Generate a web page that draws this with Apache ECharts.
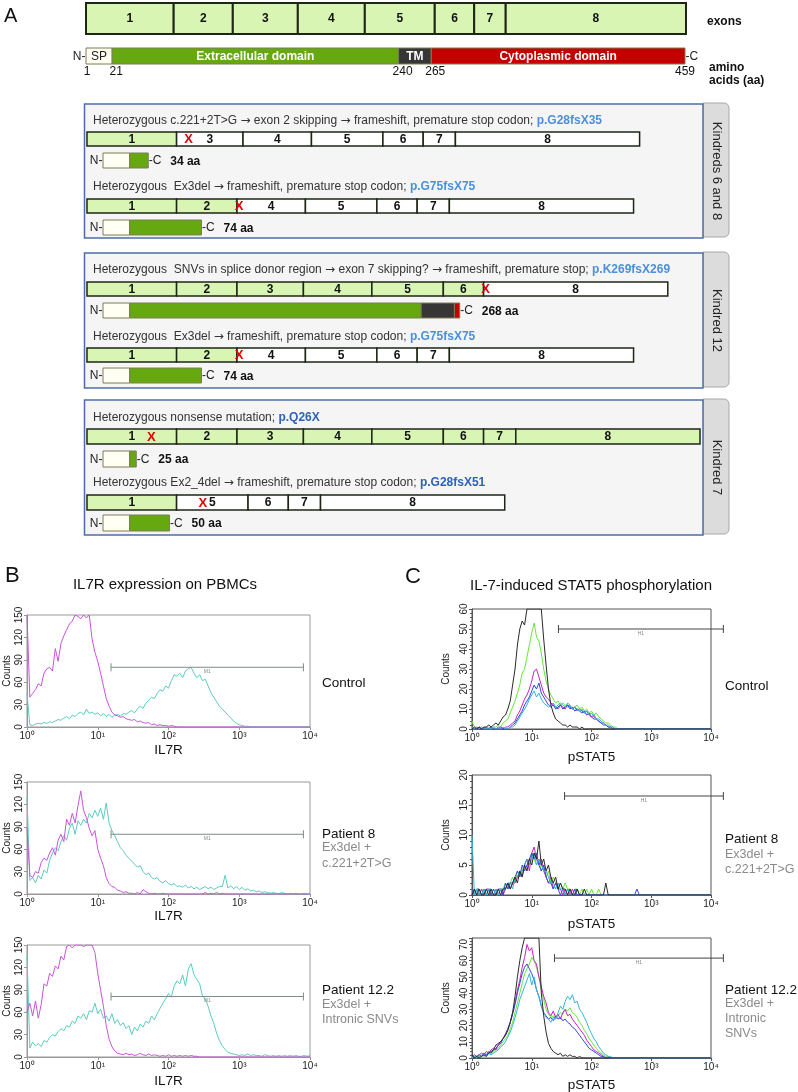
<!DOCTYPE html>
<html><head><meta charset="utf-8">
<script src="https://cdn.jsdelivr.net/npm/echarts@6/dist/echarts.min.js"></script>
<style>html,body{margin:0;padding:0;background:#fff}#c{width:798px;height:1092px}</style>
</head><body><div id="c"></div>
<script>
// ================= DATA =================
// Panel A – gene / protein structure
const exonNames = ['1','2','3','4','5','6','7','8'];
const exonLengths = [89, 60, 66, 68, 71, 40, 32, 183];
const domainNames = ['SP', 'Extracellular domain', 'TM', 'Cytoplasmic domain'];
const domainBounds = [1, 21, 240, 265, 459];           // amino acids
const proteinTotal = 459;
// variant rows (exons present, number translated in-frame, stop mark position, protein length)
const rowExons = [[1,3,4,5,6,7,8],[1,2,4,5,6,7,8],[1,2,3,4,5,6,8],[1,2,4,5,6,7,8],[1,2,3,4,5,6,7,8],[1,5,6,7,8]];
const rowGreenCount = [1, 2, 6, 2, 8, 1];
const rowStopAt = [101, 151, 396, 151, 64, 115];
const proteinLengths = [34, 74, 268, 74, 25, 50];
const mutationText = [
  'Heterozygous c.221+2T>G \u2192 exon 2 skipping \u2192 frameshift, premature stop codon; ',
  'Heterozygous  Ex3del \u2192 frameshift, premature stop codon; ',
  'Heterozygous  SNVs in splice donor region \u2192 exon 7 skipping? \u2192 frameshift, premature stop; ',
  'Heterozygous  Ex3del \u2192 frameshift, premature stop codon; ',
  'Heterozygous nonsense mutation; ',
  'Heterozygous Ex2_4del \u2192 frameshift, premature stop codon; '
];
const proteinChange = ['p.G28fsX35','p.G75fsX75','p.K269fsX269','p.G75fsX75','p.Q26X','p.G28fsX51'];
const kindredNames = ['Kindreds 6 and 8', 'Kindred 12', 'Kindred 7'];

// Panels B / C – flow histograms, one value per channel (channel i at 10^(i*binStep))
const binStep = 0.04;
const xTickExp = [0, 1, 2, 3, 4];
const b1Magenta = [150,40,45,50,58,55,72,78,80,75, 105,88,112,122,130,138,142,150,148,145, 150,146,150,118,100,88,72,55,38,28, 20,16,15,13,14,11,10,9,10,7, 8,6,5,6,3,4,2,3,2,2, 1,2,1,0];
const b1Cyan = [45,3,2,4,5,4,6,5,7,6, 8,10,9,12,14,11,16,14,18,20, 16,24,18,20,17,19,15,18,14,17, 13,16,17,15,18,17,20,22,19,24, 28,25,32,36,40,38,45,50,48,55, 52,62,70,68,72,66,75,78,80,72, 66,70,62,64,55,46,40,34,28,24, 20,16,12,8,5,3,2,1,1,0];
const b2Magenta = [88,25,22,30,28,42,48,45,55,62, 52,72,80,70,100,92,108,95,118,138, 112,102,88,78,85,60,48,38,22,14, 10,9,5,4,2,3,1,1,0,2, 0,6,3,1,0,1,0,0,1,0, 0,0,0,0,0,0,0,0,0,0, 0,0,0,2,0,1,0,2,0,1, 0];
const b2Cyan = [130,18,22,15,25,20,32,28,45,55, 62,58,70,78,72,88,95,80,98,92, 100,95,108,102,112,104,115,100,122,95, 85,78,70,62,58,52,48,44,40,36, 38,30,26,28,22,20,22,17,15,18, 14,12,14,10,11,9,12,8,10,7, 9,6,8,10,7,9,6,8,10,10, 25,8,11,7,10,6,9,5,7,4, 5,3,4,2,3,2,1,2,1,0, 2,1,0,1,0,1,0,0,1,0, 0];
const b3Magenta = [60,72,55,75,52,70,98,95,112,108, 122,118,135,130,148,150,146,150,150,150, 148,150,150,150,140,112,90,68,42,24, 14,8,5,4,3,5,3,4,2,3, 5,3,2,4,2,3,2,1,2,1, 3,1,2,1,2,1,2,1,2,1, 1,0];
const b3Cyan = [137,12,20,15,18,14,22,20,26,30, 28,34,38,35,42,40,48,45,55,52, 58,50,62,60,72,58,64,52,55,48, 58,45,50,42,46,38,42,30,40,35, 44,40,48,45,55,50,58,65,72,78, 85,80,95,102,98,110,95,118,125,110, 104,98,82,78,68,55,45,32,22,15, 10,6,5,4,3,2,3,2,4,2, 3,2,2,1,3,2,1,2,1,2, 1,2,1,2,1,2,1,1,2,1, 2];

const c1Black = [0,1,0,1,0,1,1,2,1,2, 3,2,4,6,7,10,14,22,30,42, 50,54,52,60,60,60,60,60,60,60, 45,32,20,12,8,5,4,3,2,2, 1,2,1,1,1,0,1,0];
const c1Green = [4,1,0,1,0,1,0,1,0,1, 1,2,1,3,4,5,8,11,14,18, 22,28,30,36,42,48,53,46,44,38, 30,24,20,17,15,13,14,12,13,12, 11,12,10,11,12,10,11,9,10,8, 9,7,8,6,5,4,3,3,2,1, 1,0];
const c1Magenta = [0,0,1,0,0,0,1,0,0,0, 0,1,0,0,1,1,2,3,4,7, 9,12,15,17,20,24,29,30,26,22, 18,16,15,13,12,11,10,12,11,10, 12,11,10,11,9,10,9,8,9,7, 6,7,5,4,3,3,2,1,1,0];
const c1Blue = [0,0,0,1,0,0,0,0,1,0, 0,0,1,0,0,0,1,2,3,5, 7,9,12,14,16,19,22,20,23,18, 16,14,12,11,12,10,11,12,10,11, 12,10,11,9,10,9,8,9,7,8, 6,5,5,4,3,2,2,1,1,0];
const c1Cyan = [1,0,0,0,1,0,0,0,0,1, 0,0,0,1,0,0,1,1,2,4, 6,8,10,12,15,17,19,16,18,15, 13,12,11,12,13,11,12,13,12,11, 13,12,10,11,10,9,10,8,9,7, 8,6,5,5,4,3,2,2,1,1, 0];

const c2Black = [0,1,0,1,0,0,1,0,1,0, 0,1,0,1,1,2,1,2,3,2, 4,3,5,4,6,5,7,6,9,5, 6,4,5,3,2,3,1,2,1,1, 0,1,0,0,1,0,0,1,0,0, 0,0,0,0,0,0,2,0];
const c2Green = [1,0,1,0,1,0,0,1,0,1, 0,0,1,1,2,1,2,3,2,4, 3,4,5,6,5,7,6,5,6,4, 5,3,4,2,3,2,1,2,1,2, 1,1,0,1,1,0,1,0,1,0, 1,0,0,1,0];
const c2Magenta = [0,1,0,0,1,0,1,1,0,0, 1,0,1,0,1,2,1,2,2,3, 4,3,5,6,4,7,8,6,5,6, 4,3,2,3,1,2,1,1,0,1, 0,0,1,0];
const c2Blue = [1,0,1,1,0,1,0,1,0,1, 0,1,1,0,2,1,2,2,3,4, 3,5,4,5,6,7,6,7,5,4, 5,3,2,2,1,2,1,0,1,0, 1,0,0,1,0,0,0,0,0,0, 0,0,0,0,0,0,0,0,0,0, 0,0,0,0,0,0,0,0,0,1, 0];
const c2Cyan = [10,0,1,0,0,1,0,1,1,0, 1,0,1,1,1,2,2,1,3,3, 4,4,5,6,5,6,7,5,6,5, 4,4,3,2,2,1,2,1,1,0, 1,0,0,0,1,0];

const c3Black = [2,0,1,0,1,2,1,3,4,5, 8,9,10,12,14,17,22,28,38,50, 60,68,74,74,74,74,74,74,74,40, 26,16,9,6,4,3,2,3,1,2, 1,2,1,1,0,1,0];
const c3Green = [0,1,0,1,2,1,2,3,2,4, 5,6,8,10,12,14,18,22,28,34, 40,46,52,55,58,62,60,56,50,42, 36,30,27,25,26,24,26,28,27,30, 29,31,28,27,25,22,20,17,15,12, 10,8,6,4,3,2,1,1,0];
const c3Magenta = [1,2,1,2,3,2,4,3,5,6, 5,8,10,12,15,18,22,28,34,42, 48,56,62,70,66,68,60,58,50,44, 38,34,28,26,29,25,27,24,28,30, 26,27,24,22,20,18,16,14,11,9, 7,5,4,3,2,1,0];
const c3Blue = [1,0,1,2,1,3,2,4,3,5, 6,8,9,12,14,18,22,27,33,40, 46,52,56,58,55,52,48,42,38,32, 28,26,24,25,23,26,24,25,23,24, 22,21,19,18,16,14,12,10,8,6, 5,4,3,2,1,1,0];
const c3Cyan = [0,1,0,1,1,2,1,3,2,3, 4,5,7,8,10,13,16,20,25,30, 36,40,44,48,52,45,50,42,38,32, 28,25,24,22,25,24,28,32,30,35, 38,36,39,34,35,30,28,25,22,18, 15,12,10,7,5,3,2,1,1,0];

// gates [from, to, level]
const gatesB = [[15.4, 8070, 80], [15.4, 8070, 80], [15.4, 8070, 81]];
const gatesC = [[28, 16100, 50], [35.4, 16100, 16.5], [24, 16100, 61.6]];
const yMaxB = [150, 150, 150];
const yMaxC = [60, 20, 74];
const yStepC = [10, 5, 10];

const titleB = 'IL7R expression on PBMCs';
const titleC = 'IL-7-induced STAT5 phosphorylation';
const sampleLabels = [['Control'], ['Patient 8', 'Ex3del +', 'c.221+2T>G'], ['Patient 12.2', 'Ex3del +', 'Intronic SNVs']];
const sampleLabelsC = [['Control'], ['Patient 8', 'Ex3del +', 'c.221+2T>G'], ['Patient 12.2', 'Ex3del +', 'Intronic', 'SNVs']];

// ================= STYLE / LAYOUT =================
const FONT = "'Liberation Sans', Arial, Helvetica, sans-serif";
const ARROW_FONT = "'DejaVu Sans', 'Liberation Sans', sans-serif";
const EXON_GREEN = '#d8f5b4';
const DOMAIN_COLORS = ['#fffff4', '#66a80f', '#363636', '#c40000'];
const DOMAIN_STROKE = '#7d7d55';
const SUP = ['\u2070','\u00b9','\u00b2','\u00b3','\u2074'];
const exonTotal = exonLengths.reduce((a,b)=>a+b,0);

const grids=[], xAxes=[], yAxes=[], series=[], gfx=[];
function addGrid(g, xa, ya){
  grids.push(Object.assign({containLabel:false, outerBoundsMode:'none'}, g));
  const i = grids.length-1;
  xAxes.push(Object.assign({gridIndex:i}, xa));
  yAxes.push(Object.assign({gridIndex:i}, ya));
  return i;
}
const hx = (min,max)=>({type:'value', min, max, show:false});
const hy = ()=>({type:'value', min:0, max:1, show:false});

function exonRender(lw, fs){
  return function(params, api){
    const a = api.coord([api.value(0), 1]);
    const b = api.coord([api.value(1), 0]);
    return {type:'group', children:[
      {type:'rect', shape:{x:a[0], y:a[1], width:b[0]-a[0], height:b[1]-a[1]},
       style:{fill: api.value(3) ? EXON_GREEN : '#ffffff', stroke:'#1e2616', lineWidth:lw}},
      {type:'text', style:{text: exonNames[api.value(2)-1], x:(a[0]+b[0])/2, y:(a[1]+b[1])/2+0.5,
        align:'center', verticalAlign:'middle', fontSize:fs, fontWeight:'bold', fontFamily:FONT, fill:'#111'}}
    ]};
  };
}
function stopRender(params, api){
  const p = api.coord([api.value(0), api.value(1)]);
  return {type:'text', style:{text:'X', x:p[0], y:p[1]+0.5, align:'center', verticalAlign:'middle',
    fontSize:13, fontWeight:'bold', fontFamily:FONT, fill:'#e00000'}};
}
function domainRender(top){
  return function(params, api){
    const d = api.value(2);
    const a = api.coord([api.value(0), 1]), b = api.coord([api.value(1), 0]);
    const ch = [{type:'rect', shape:{x:a[0], y:a[1], width:b[0]-a[0], height:b[1]-a[1]},
      style:{fill:DOMAIN_COLORS[d], stroke:DOMAIN_STROKE, lineWidth:1}}];
    if (top){
      ch.push({type:'text', style:{text:domainNames[d], x:(a[0]+b[0])/2, y:(a[1]+b[1])/2+0.5, align:'center', verticalAlign:'middle',
        fontSize:12, fontWeight: d===0?'normal':'bold', fontFamily:FONT, fill: d===0?'#222':'#fff'}});
      const dx = d===0 ? 1 : 4;
      ch.push({type:'text', style:{text:String(api.value(0)), x:a[0]+dx, y:b[1]+8, align:'center', verticalAlign:'middle',
        fontSize:12, fontFamily:FONT, fill:'#111'}});
      if (d===3) ch.push({type:'text', style:{text:String(api.value(1)), x:b[0], y:b[1]+8, align:'center', verticalAlign:'middle',
        fontSize:12, fontFamily:FONT, fill:'#111'}});
    }
    return {type:'group', children:ch};
  };
}
function endsRender(withLen){
  return function(params, api){
    const a = api.coord([api.value(0), 0.5]), b = api.coord([api.value(1), 0.5]);
    const ch = [
      {type:'text', style:{text:'N-', x:a[0]-0.5, y:a[1]+0.5, align:'right', verticalAlign:'middle', fontSize:12, fontFamily:FONT, fill:'#222'}},
      {type:'text', style:{text:'-C', x:b[0]+0.5, y:b[1]+0.5, align:'left', verticalAlign:'middle', fontSize:12, fontFamily:FONT, fill:'#222'}}
    ];
    if (withLen) ch.push({type:'text', style:{text: api.value(1)+' aa', x:b[0]+22, y:b[1]+1, align:'left', verticalAlign:'middle',
      fontSize:12, fontWeight:'bold', fontFamily:FONT, fill:'#111'}});
    return {type:'group', children:ch};
  };
}

// ---- Panel A: top exon bar ----
{
  const gi = addGrid({left:86, top:3, width:600, height:31}, hx(0, exonTotal), hy());
  let acc = 0; const segs = [];
  exonLengths.forEach((L,i)=>{ segs.push([acc, acc+L, i+1, 1]); acc += L; });
  series.push({type:'custom', xAxisIndex:gi, yAxisIndex:gi, data:segs, renderItem:exonRender(2, 12), z:5, silent:true});
}
// ---- Panel A: full protein ----
{
  const gi = addGrid({left:86, top:48, width:599, height:16}, hx(domainBounds[0], domainBounds[4]), hy());
  const segs = [];
  for (let d=0; d<4; d++) segs.push([domainBounds[d], domainBounds[d+1], d]);
  series.push({type:'custom', xAxisIndex:gi, yAxisIndex:gi, data:segs, renderItem:domainRender(true), z:5, silent:true});
  series.push({type:'custom', xAxisIndex:gi, yAxisIndex:gi, data:[[domainBounds[0], domainBounds[4]]], renderItem:endsRender(false), z:5, silent:true});
}
// ---- Panel A: variant rows ----
const exonRowTop = [132, 199, 282, 348, 429, 495];
const exonRowH = [14, 14, 14, 14, 15, 15];
const protRowTop = [153, 220, 303, 368, 451, 515];
const protRowH = [15, 15, 15, 15, 16, 16];
rowExons.forEach((exs, r)=>{
  const gi = addGrid({left:87, top:exonRowTop[r], width:613, height:exonRowH[r]}, hx(0, exonTotal), hy());
  let acc = 0; const segs = [];
  exs.forEach((ex,k)=>{ const L = exonLengths[ex-1]; segs.push([acc, acc+L, ex, k < rowGreenCount[r] ? 1 : 0]); acc += L; });
  series.push({type:'custom', xAxisIndex:gi, yAxisIndex:gi, data:segs, renderItem:exonRender(1.5, 12), z:5, silent:true});
  series.push({type:'custom', xAxisIndex:gi, yAxisIndex:gi, data:[[rowStopAt[r], 0.5]], renderItem:stopRender, z:6, silent:true});

  const L = proteinLengths[r];
  const gp = addGrid({left:103, top:protRowTop[r], width:611, height:protRowH[r]}, hx(0, proteinTotal), hy());
  const b = [0, domainBounds[1]-1, domainBounds[2]-1, domainBounds[3]-1, L];
  const ps = [];
  for (let d=0; d<4; d++){ const lo=b[d], hi = d===3 ? L : Math.min(b[d+1], L); if (hi>lo) ps.push([lo, hi, d]); }
  series.push({type:'custom', xAxisIndex:gp, yAxisIndex:gp, data:ps, renderItem:domainRender(false), z:5, silent:true});
  series.push({type:'custom', xAxisIndex:gp, yAxisIndex:gp, data:[[0, L]], renderItem:endsRender(true), z:5, silent:true});
});

// ---- Panel A: boxes, tabs, texts ----
const boxTop = [104, 253, 400], boxH = [134, 135, 135];
const textY = [120.5, 186.5, 270, 336.5, 417.5, 482.5];
const changeColor = ['#4a90dc','#4a90dc','#4a90dc','#4a90dc','#2f62b8','#2f62b8'];
boxTop.forEach((t,k)=>{
  gfx.push({type:'rect', z:0, shape:{x:703, y:t-1, width:26, height:boxH[k], r:[0,5,5,0]}, style:{fill:'#dcdcdc', stroke:'#a8a8a8', lineWidth:1}});
  gfx.push({type:'rect', z:1, shape:{x:84.5, y:t, width:618.5, height:boxH[k]}, style:{fill:'#f5f5f5', stroke:'#4d6da6', lineWidth:1.5}});
  gfx.push({type:'text', z:10, x:716.5, y:t+boxH[k]/2, rotation:-Math.PI/2, style:{text:kindredNames[k], align:'center', verticalAlign:'middle', fontSize:13, fontFamily:FONT, fill:'#222'}});
});
mutationText.forEach((s,r)=>{
  const body = '{t|' + s.split('\u2192').join('}{a|\u2192}{t|') + '}';
  gfx.push({type:'text', z:10, x:93, y:textY[r], style:{text: body + '{p|'+proteinChange[r]+'}', verticalAlign:'middle',
    rich:{t:{fontSize:12, fontFamily:FONT, fill:'#333'}, a:{fontSize:12, fontFamily:ARROW_FONT, fill:'#333'},
          p:{fontSize:12, fontFamily:FONT, fontWeight:'bold', fill:changeColor[r]}}}});
});
gfx.push({type:'text', z:10, x:4, y:16, style:{text:'A', fontSize:20, fontFamily:FONT, fill:'#111', verticalAlign:'middle'}});
gfx.push({type:'text', z:10, x:707, y:22, style:{text:'exons', fontSize:12, fontWeight:'bold', fontFamily:FONT, fill:'#111', verticalAlign:'middle'}});
gfx.push({type:'text', z:10, x:709, y:68, style:{text:'amino', fontSize:12, fontWeight:'bold', fontFamily:FONT, fill:'#111', verticalAlign:'middle'}});
gfx.push({type:'text', z:10, x:709, y:81, style:{text:'acids (aa)', fontSize:12, fontWeight:'bold', fontFamily:FONT, fill:'#111', verticalAlign:'middle'}});

// ---- Panels B / C ----
const channels = arr => { const d = arr.map((v,i)=>[Math.pow(10, i*binStep), v]); if (arr.length < 101) d.push([10000, 0]); return d; };
function gateRender(label, color){
  return function(params, api){
    const a = api.coord([api.value(0), api.value(2)]);
    const b = api.coord([api.value(1), api.value(2)]);
    return {type:'group', children:[
      {type:'line', shape:{x1:a[0], y1:a[1], x2:b[0], y2:b[1]}, style:{stroke:color, lineWidth:1}},
      {type:'line', shape:{x1:a[0], y1:a[1]-4, x2:a[0], y2:a[1]+4}, style:{stroke:color, lineWidth:1}},
      {type:'line', shape:{x1:b[0], y1:b[1]-4, x2:b[0], y2:b[1]+4}, style:{stroke:color, lineWidth:1}},
      {type:'text', style:{text:label, x:(a[0]+b[0])/2, y:a[1]+2, align:'center', verticalAlign:'top', fontSize:5, fontFamily:FONT, fill:'#888'}}
    ]};
  };
}
function histX(nameText, gap, lineColor){
  return {type:'log', logBase:10, min:1, max:10000, splitNumber:4,
    name:nameText, nameLocation:'middle', nameGap:gap, nameTextStyle:{fontSize:13.5, color:'#111', fontFamily:FONT},
    axisLine:{show:true, lineStyle:{color:lineColor}}, axisTick:{show:true, length:3, lineStyle:{color:lineColor}},
    splitLine:{show:false},
    axisLabel:{fontSize:10, color:'#222', margin:4, fontFamily:FONT,
      formatter: v => { const e = Math.round(Math.log10(v)); return xTickExp.indexOf(e) >= 0 ? '10' + SUP[e] : ''; }}};
}
function histY(max, step, gap, lineColor, minor){
  return {type:'value', min:0, max, interval:step,
    name:'Counts', nameLocation:'middle', nameGap:gap, nameTextStyle:{fontSize:10, color:'#222', fontFamily:FONT},
    axisLine:{show:true, lineStyle:{color:lineColor}}, axisTick:{show:true, length:3, lineStyle:{color:lineColor}},
    minorTick:{show:minor, splitNumber:5, length:2, lineStyle:{color:lineColor}},
    splitLine:{show:false},
    axisLabel:{rotate:90, fontSize:10, color:'#222', margin:3, fontFamily:FONT, showMaxLabel: max % step === 0}};
}
const lineS = (gi, data, color) => ({type:'line', xAxisIndex:gi, yAxisIndex:gi, data:channels(data), showSymbol:false, symbol:'none',
  lineStyle:{color, width:1}, itemStyle:{color}, z:3, silent:true});

const bTop = [615, 782, 945];
const bSeries = [[b1Cyan, b1Magenta], [b2Cyan, b2Magenta], [b3Cyan, b3Magenta]];
const bGaps = [16, 14, 17];
bTop.forEach((t,k)=>{
  const gi = addGrid({left:27, top:t, width:283, height:112, show:true, borderColor:'#999', borderWidth:1},
    histX('IL7R', bGaps[k], '#999'), histY(yMaxB[k], 30, 15, '#999', false));
  series.push(lineS(gi, bSeries[k][0], '#5ccbbf'));
  series.push(lineS(gi, bSeries[k][1], '#c854da'));
  series.push({type:'custom', xAxisIndex:gi, yAxisIndex:gi, data:[gatesB[k]], renderItem:gateRender('M1', '#7d8c8c'), z:6, silent:true});
});
const cTop = [609, 775, 938];
const cSeries = [[c1Green, c1Magenta, c1Blue, c1Cyan, c1Black], [c2Green, c2Magenta, c2Blue, c2Cyan, c2Black], [c3Green, c3Magenta, c3Blue, c3Cyan, c3Black]];
const cColors = ['#6be43c', '#c424c4', '#3646e0', '#33b5d6', '#2a2a2a'];
const cGaps = [21, 22, 20];
cTop.forEach((t,k)=>{
  const gi = addGrid({left:472, top:t, width:239, height:120, show:true, borderColor:'#555', borderWidth:1},
    histX('pSTAT5', cGaps[k], '#555'), histY(yMaxC[k], yStepC[k], 21, '#555', true));
  cSeries[k].forEach((arr,j)=> series.push(lineS(gi, arr, cColors[j])));
  series.push({type:'custom', xAxisIndex:gi, yAxisIndex:gi, data:[gatesC[k]], renderItem:gateRender('H1', '#444'), z:6, silent:true});
});

// labels B / C
gfx.push({type:'text', z:10, x:5, y:576, style:{text:'B', fontSize:22, fontFamily:FONT, fill:'#111', verticalAlign:'middle'}});
gfx.push({type:'text', z:10, x:405, y:577, style:{text:'C', fontSize:22, fontFamily:FONT, fill:'#111', verticalAlign:'middle'}});
gfx.push({type:'text', z:10, x:165, y:585, style:{text:titleB, fontSize:15, fontFamily:FONT, fill:'#111', align:'center', verticalAlign:'middle'}});
gfx.push({type:'text', z:10, x:591, y:586, style:{text:titleC, fontSize:15, fontFamily:FONT, fill:'#111', align:'center', verticalAlign:'middle'}});
const bLabelY = [683, 834, 990], cLabelY = [686, 839, 990];
function sideLabels(x, y0, lines, dy){
  lines.forEach((s,i)=>{
    gfx.push({type:'text', z:10, x, y:y0 + (i===0 ? 0 : dy[i]), style:{text:s, fontSize: i===0 ? 13.5 : 12.5, fontFamily:FONT,
      fill: i===0 ? '#111' : '#8a8a8a', verticalAlign:'middle'}});
  });
}
sideLabels(322, bLabelY[0], sampleLabels[0], [0]);
sideLabels(322, bLabelY[1], sampleLabels[1], [0, 14, 30]);
sideLabels(322, bLabelY[2], sampleLabels[2], [0, 15, 30]);
sideLabels(725, cLabelY[0], sampleLabelsC[0], [0]);
sideLabels(725, cLabelY[1], sampleLabelsC[1], [0, 16, 31]);
sideLabels(725, cLabelY[2], sampleLabelsC[2], [0, 14, 29, 44]);

const chart = echarts.init(document.getElementById('c'), null, {renderer:'canvas', width:798, height:1092});
chart.setOption({
  animation:false,
  backgroundColor:'#ffffff',
  textStyle:{fontFamily:FONT},
  grid:grids, xAxis:xAxes, yAxis:yAxes, series,
  graphic:{elements:gfx}
});
</script>
</body></html>
